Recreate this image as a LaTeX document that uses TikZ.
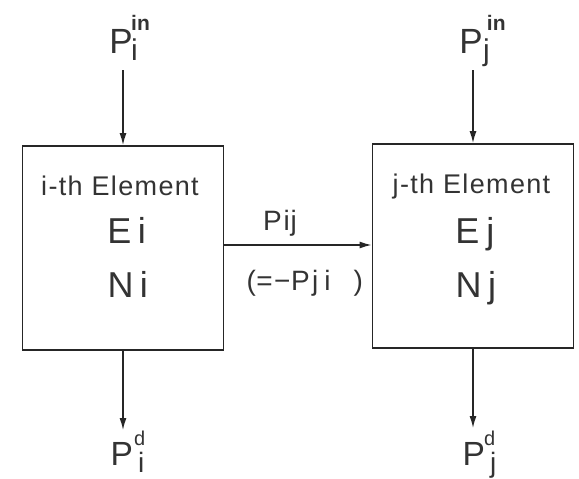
\documentclass[tikz,border=0pt]{standalone}
\usepackage{fontspec}
\setmainfont{Liberation Sans}
\usetikzlibrary{arrows.meta}
\begin{document}
\begin{tikzpicture}[x=1pt,y=-1pt,
  arr/.style={draw=black!85, line width=1.4pt, -{Latex[length=12pt,width=7pt]}},
  elbox/.style={draw=black!85, line width=1.8pt, minimum width=201pt, minimum height=204pt, inner sep=0pt},
  txt/.style={inner sep=0pt, text=black!80, anchor=base west},
  ctxt/.style={inner sep=0pt, text=black!80, anchor=base},
]
\useasboundingbox (0,0) rectangle (579,479);
% boxes
\node[elbox] (L) at (123,248) {};
\node[elbox] (R) at (473,246) {};
% box texts
\node[ctxt] (lt) at (120,195) {\fontsize{27}{30}\selectfont\addfontfeature{LetterSpace=5}i-th Element};
\node[ctxt] (rt) at (471.5,193) {\fontsize{27}{30}\selectfont\addfontfeature{LetterSpace=5}j-th Element};
\node[txt] (le) at (107.1,243) {\fontsize{36}{40}\selectfont E\kern6.5pt i};
\node[txt] (ln) at (107.3,297) {\fontsize{36}{40}\selectfont N\kern6.3pt i};
\node[txt] (re) at (455.1,243) {\fontsize{36}{40}\selectfont E\kern7pt j};
\node[txt] (rn) at (455.3,297) {\fontsize{36}{40}\selectfont N\kern6.7pt j};
% top labels
\node[txt] (pin) at (109.2,53) {\fontsize{35}{40}\selectfont P\kern-1.5pt\rlap{\raisebox{-7pt}{\fontsize{30}{30}\selectfont i}}\raisebox{23pt}{\fontsize{21}{21}\selectfont\bfseries in}};
\node[txt] (pjn) at (459.2,53) {\fontsize{35}{40}\selectfont P\rlap{\kern0.5pt\raisebox{-7pt}{\fontsize{30}{30}\selectfont j}}\kern4.2pt\raisebox{23pt}{\fontsize{21}{21}\selectfont\bfseries in}};
% bottom labels
\node[txt] (pid) at (110.3,465) {\fontsize{33.5}{40}\selectfont P\rlap{\kern5.4pt\raisebox{-7pt}{\fontsize{28}{28}\selectfont i}}\kern1.4pt\raisebox{20pt}{\fontsize{20}{20}\selectfont d}};
\node[txt] (pjd) at (462.3,465) {\fontsize{33.5}{40}\selectfont P\rlap{\kern5.4pt\raisebox{-7pt}{\fontsize{28}{28}\selectfont j}}\kern-0.6pt\raisebox{20pt}{\fontsize{20}{20}\selectfont d}};
% middle labels
\node[txt] (pij) at (262.8,230) {\fontsize{28}{32}\selectfont P\kern2pt i\kern0.8pt j};
\node[txt] (pji) at (246.3,290) {\fontsize{28}{32}\selectfont (\kern0.5pt=\kern1.5pt−\kern0.5ptP\kern2.5pt j\kern6pt i\kern23pt)};
% connectors
\coordinate (ti) at (123,70);
\coordinate (tj) at (473,70);
\coordinate (bi) at (123,430);
\coordinate (bj) at (473,428);
\coordinate (h) at (300,245);
\draw[arr] (ti) -- (L.north);
\draw[arr] (tj) -- (R.north);
\draw[arr] (L.south) -- (bi);
\draw[arr] (R.south) -- (bj);
\draw[arr] (L.east |- h) -- (R.west |- h);
\end{tikzpicture}
\end{document}
